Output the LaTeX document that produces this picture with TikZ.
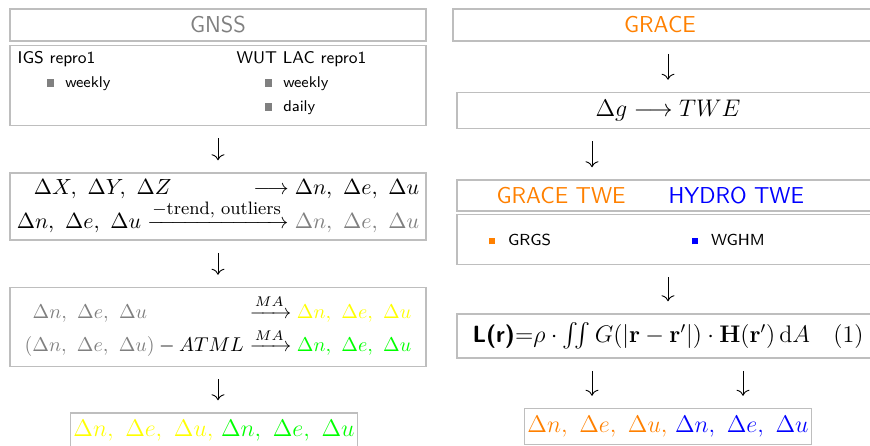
\documentclass[tikz,border=0pt]{standalone}
\usepackage{amsmath}
\usepackage{xcolor}
\usepackage{tikz}
\usetikzlibrary{positioning,arrows.meta,calc}
\definecolor{framegrey}{HTML}{BEBEBE}
\definecolor{dimgrey}{HTML}{808080}
\definecolor{graceorange}{HTML}{FF8000}
\definecolor{hydroblue}{HTML}{0000FF}
\definecolor{mayellow}{HTML}{FFFF00}
\definecolor{atmlgreen}{HTML}{00FF00}
\newcommand{\dneu}{\Delta n,\ \Delta e,\ \Delta u}
\newcommand{\sqbul}[2]{\textcolor{#1}{\rule[0.4pt]{#2}{#2}}}
\tikzset{
  box/.style  = {draw=framegrey, line width=0.75pt, inner sep=1.5pt, align=center,
                 font=\fontsize{11.75}{14}\selectfont},
  lbox/.style = {box, minimum width=208pt},
  rbox/.style = {box, minimum width=211pt},
  small/.style= {font=\fontsize{10.7}{12.8}\selectfont},
  head/.style = {font=\sffamily\fontsize{11.5}{13}\selectfont},
  tag/.style  = {anchor=west, inner sep=0pt},
  src/.style  = {tag, font=\sffamily\fontsize{8.5}{10}\selectfont},
  itm/.style  = {tag, font=\sffamily\fontsize{7.8}{9}\selectfont},
  arr/.style  = {-{Computer Modern Rightarrow[length=3pt,width=6.5pt]},
                 line width=0.45pt, shorten <=6pt, shorten >=6pt},
}
\begin{document}
\begin{tikzpicture}[x=0.5pt,y=-0.5pt]
  \useasboundingbox (0,0) rectangle (870,445);

  % --- GNSS column ---
  \node[lbox, minimum height=16pt, head, text=dimgrey] (gnss) at (218,25) {GNSS};
  \node[lbox, minimum height=40pt, below=1.5pt of gnss] (srcs) {};
  \node[src] (igs) at ([xshift=4pt,yshift=-7pt]srcs.north west) {IGS repro1};
  \node[src] (wut) at ([xshift=113.5pt,yshift=-7pt]srcs.north west) {WUT LAC repro1};
  \node[itm] (igsw) at ([xshift=18.5pt,yshift=-19.5pt]srcs.north west)
        {\sqbul{dimgrey}{3.8pt}\hspace{5.5pt}weekly};
  \node[itm] (wutw) at ([xshift=127.5pt,yshift=-19.5pt]srcs.north west)
        {\sqbul{dimgrey}{3.8pt}\hspace{5.5pt}weekly};
  \node[itm] (wutd) at ([xshift=127.5pt,yshift=-31.5pt]srcs.north west)
        {\sqbul{dimgrey}{3.8pt}\hspace{5.5pt}daily};

  \node[lbox, small, minimum height=33.5pt, below=23pt of srcs] (xyz) {%
    \begin{tabular}{@{}r@{}}
      $\Delta X,\ \Delta Y,\ \Delta Z\hspace{38pt}\longrightarrow\dneu$\\[-1.5pt]
      $\dneu\xrightarrow{\text{\fontsize{9}{10}\selectfont$-$trend, outliers}}\textcolor{dimgrey}{\dneu}$
    \end{tabular}};

  \node[lbox, font=\fontsize{10.4}{12.5}\selectfont, inner sep=1pt, minimum height=39.5pt,
        below=23pt of xyz] (ma) {%
    $\begin{array}{@{}l@{\hspace{3pt}}l@{}}
      \hspace{4pt}\textcolor{dimgrey}{\dneu} & \xrightarrow{MA}\textcolor{mayellow}{\dneu}\\[1.5pt]
      \textcolor{dimgrey}{(\dneu)}-ATML & \xrightarrow{MA}\textcolor{atmlgreen}{\dneu}
    \end{array}$};

  \node[box, minimum height=18pt, below=22.5pt of ma, xshift=-2pt] (lout)
        {$\textcolor{mayellow}{\dneu,}\ \textcolor{atmlgreen}{\dneu}$};

  \draw[arr] (srcs) -- (xyz);
  \draw[arr] (xyz) -- (ma);
  \draw[arr] (ma.south) -- (ma.south |- lout.north);

  % --- GRACE column ---
  \node[box, minimum width=215pt, minimum height=16pt, head, text=graceorange] (grace)
        at (668,25) {GRACE\hspace{8pt}};
  \node[rbox, minimum height=18pt, below=25pt of grace] (dg) {$\Delta g\longrightarrow TWE$};
  \node[rbox, minimum height=15.5pt, below=25pt of dg] (twe) {};
  \node[tag, head, text=graceorange] (gtwe) at ([xshift=20pt]twe.west) {GRACE TWE};
  \node[tag, head, text=hydroblue] (htwe) at ([xshift=106pt]twe.west) {HYDRO TWE};
  \node[rbox, minimum height=25pt, below=1pt of twe] (mdl) {};
  \node[itm, font=\sffamily\fontsize{8}{9}\selectfont] (grgs) at ([xshift=16pt]mdl.west)
        {\sqbul{graceorange}{3.2pt}\hspace{6.5pt}GRGS};
  \node[itm, font=\sffamily\fontsize{8}{9}\selectfont] (wghm) at ([xshift=117.5pt]mdl.west)
        {\sqbul{hydroblue}{3.2pt}\hspace{6.5pt}WGHM};

  \node[rbox, minimum height=22pt, below=24pt of mdl] (lr)
        {\textsf{\bfseries L(r)}${=}\rho\cdot\iint G(|\mathbf{r}-\mathbf{r}'|)\cdot\mathbf{H}(\mathbf{r}')\,\mathrm{d}A\quad(1)$};
  \node[box, minimum height=18pt, below=24.5pt of lr] (rout)
        {$\textcolor{graceorange}{\dneu,}\ \textcolor{hydroblue}{\dneu}$};

  \draw[arr] (grace) -- (dg);
  \draw[arr] ([xshift=-38pt]dg.south) -- ([xshift=-38pt]twe.north);
  \draw[arr] (mdl) -- (lr);
  \draw[arr] ([xshift=-38pt]lr.south) -- ([xshift=-38pt]rout.north);
  \draw[arr] ([xshift=37.5pt]lr.south) -- ([xshift=37.5pt]rout.north);
\end{tikzpicture}
\end{document}
